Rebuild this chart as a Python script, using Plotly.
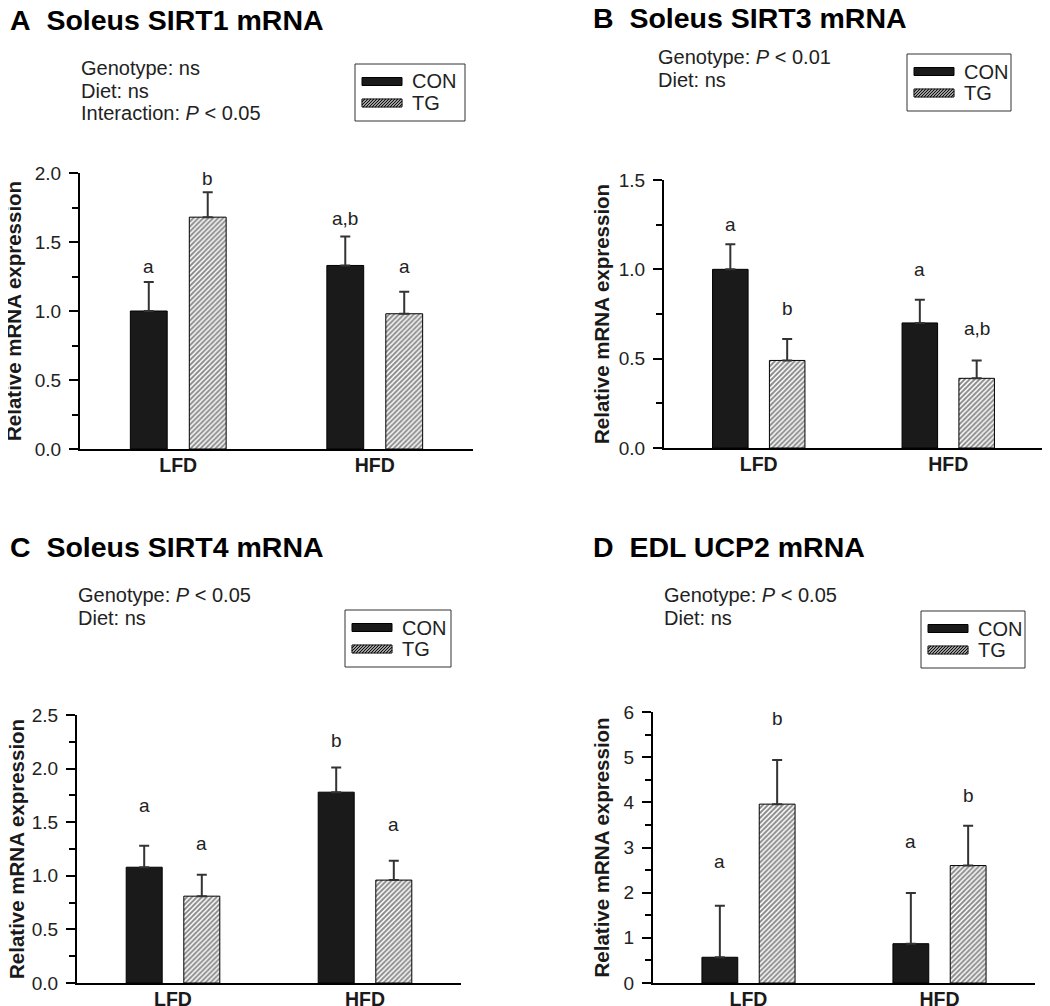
import plotly.graph_objects as go

W, H = 1050, 1006
OFF = 8  # the page puts the figure 8px in from the corner; reference pixel positions are shifted by this
FONT = 'Liberation Sans, Arial, sans-serif'
INK = '#1a1a1a'

groups = ['LFD', 'HFD']

# A - soleus SIRT1
sirt1_con = [1.00, 1.33]
sirt1_con_sem = [0.21, 0.21]
sirt1_tg = [1.68, 0.98]
sirt1_tg_sem = [0.18, 0.16]
sirt1_con_letters = ['a', 'a,b']
sirt1_tg_letters = ['b', 'a']
sirt1_con_letter_y = [1.32, 1.76]
sirt1_tg_letter_y = [2.05, 1.32]
sirt1_stats = ['Genotype: ns', 'Diet: ns', 'Interaction: <i>P</i> &lt; 0.05']

# B - soleus SIRT3
sirt3_con = [1.00, 0.70]
sirt3_con_sem = [0.14, 0.13]
sirt3_tg = [0.49, 0.39]
sirt3_tg_sem = [0.12, 0.10]
sirt3_con_letters = ['a', 'a']
sirt3_tg_letters = ['b', 'a,b']
sirt3_con_letter_y = [1.32, 1.00]
sirt3_tg_letter_y = [0.78, 0.67]
sirt3_stats = ['Genotype: <i>P</i> &lt; 0.01', 'Diet: ns']

# C - soleus SIRT4
sirt4_con = [1.08, 1.78]
sirt4_con_sem = [0.20, 0.23]
sirt4_tg = [0.81, 0.96]
sirt4_tg_sem = [0.20, 0.18]
sirt4_con_letters = ['a', 'b']
sirt4_tg_letters = ['a', 'a']
sirt4_con_letter_y = [1.66, 2.38]
sirt4_tg_letter_y = [1.30, 1.48]
sirt4_stats = ['Genotype: <i>P</i> &lt; 0.05', 'Diet: ns']

# D - EDL UCP2
ucp2_con = [0.57, 0.87]
ucp2_con_sem = [1.14, 1.12]
ucp2_tg = [3.96, 2.60]
ucp2_tg_sem = [0.98, 0.88]
ucp2_con_letters = ['a', 'a']
ucp2_tg_letters = ['b', 'b']
ucp2_con_letter_y = [2.69, 3.14]
ucp2_tg_letter_y = [6.13, 4.43]
ucp2_stats = ['Genotype: <i>P</i> &lt; 0.05', 'Diet: ns']


def px(x):
    return max(x - OFF, 0) / W


def py(y):
    return 1 - max(y - OFF, 0) / H


# panel geometry (pixels)
panels = [
    dict(title='A\u00a0\u00a0Soleus SIRT1 mRNA', con=sirt1_con, con_sem=sirt1_con_sem, tg=sirt1_tg, tg_sem=sirt1_tg_sem,
         con_lab=sirt1_con_letters, tg_lab=sirt1_tg_letters, con_ly=sirt1_con_letter_y, tg_ly=sirt1_tg_letter_y,
         stats=sirt1_stats, x0=80, x1=473, top=173, bottom=449, ymax=2.0, dtick=0.5, minor=0.25, fmt='.1f',
         title_xy=(5, 20), stats_xy=(79, 68), legend=(355, 64, 110), ytitle_x=13),
    dict(title='B\u00a0\u00a0Soleus SIRT3 mRNA', con=sirt3_con, con_sem=sirt3_con_sem, tg=sirt3_tg, tg_sem=sirt3_tg_sem,
         con_lab=sirt3_con_letters, tg_lab=sirt3_tg_letters, con_ly=sirt3_con_letter_y, tg_ly=sirt3_tg_letter_y,
         stats=sirt3_stats, x0=664, x1=1043, top=180, bottom=448, ymax=1.5, dtick=0.5, minor=0.25, fmt='.1f',
         title_xy=(591, 18), stats_xy=(656, 57), legend=(907, 54, 104), ytitle_x=601),
    dict(title='C\u00a0\u00a0Soleus SIRT4 mRNA', con=sirt4_con, con_sem=sirt4_con_sem, tg=sirt4_tg, tg_sem=sirt4_tg_sem,
         con_lab=sirt4_con_letters, tg_lab=sirt4_tg_letters, con_ly=sirt4_con_letter_y, tg_ly=sirt4_tg_letter_y,
         stats=sirt4_stats, x0=77, x1=461, top=715, bottom=983, ymax=2.5, dtick=0.5, minor=0.25, fmt='.1f',
         title_xy=(3, 547), stats_xy=(76, 595), legend=(345, 610, 106), ytitle_x=16),
    dict(title='D\u00a0\u00a0EDL UCP2 mRNA', con=ucp2_con, con_sem=ucp2_con_sem, tg=ucp2_tg, tg_sem=ucp2_tg_sem,
         con_lab=ucp2_con_letters, tg_lab=ucp2_tg_letters, con_ly=ucp2_con_letter_y, tg_ly=ucp2_tg_letter_y,
         stats=ucp2_stats, x0=653, x1=1035, top=712, bottom=983, ymax=6, dtick=1, minor=0.5, fmt='d',
         title_xy=(591, 547), stats_xy=(662, 595), legend=(921, 611, 104), ytitle_x=601),
]

data = []
annotations = []
shapes = []
layout = dict(width=W, height=H, margin=dict(l=0, r=0, t=0, b=0), autosize=False,
              plot_bgcolor='white', paper_bgcolor='white', showlegend=False,
              barmode='group', bargap=0.4, bargroupgap=0.375,
              font=dict(family=FONT, color=INK))

for i, p in enumerate(panels):
    sfx = '' if i == 0 else str(i + 1)
    xa, ya = 'x' + sfx, 'y' + sfx
    err = dict(type='data', symmetric=False, color='#333', thickness=2, width=5)

    data.append(go.Bar(x=groups, y=p['con'], name='CON', xaxis=xa, yaxis=ya,
                       error_y=dict(err, array=p['con_sem'], arrayminus=[0, 0]),
                       marker=dict(color=INK, line=dict(color='black', width=1))))
    data.append(go.Bar(x=groups, y=p['tg'], name='TG', xaxis=xa, yaxis=ya,
                       error_y=dict(err, array=p['tg_sem'], arrayminus=[0, 0]),
                       marker=dict(color='white', line=dict(color='black', width=1),
                                   pattern=dict(shape='/', fgcolor='#111', bgcolor='white',
                                                size=3.5, solidity=0.55))))

    layout['xaxis' + sfx] = dict(domain=[px(p['x0']), px(p['x1'])], anchor=ya, type='category',
                                 range=[-0.5, 1.5], showline=True, linecolor='black', linewidth=2,
                                 ticks='', showgrid=False, zeroline=False, automargin=False,
                                 ticklabelstandoff=-2,
                                 tickfont=dict(size=19.5, weight='bold', color=INK))
    layout['yaxis' + sfx] = dict(domain=[py(p['bottom']), py(p['top'])], anchor=xa,
                                 range=[0, p['ymax']], tick0=0, dtick=p['dtick'], tickformat=p['fmt'],
                                 ticks='outside', ticklen=9, tickwidth=2, tickcolor='black',
                                 showline=True, linecolor='black', linewidth=2,
                                 showgrid=False, zeroline=False, automargin=False, ticklabelstandoff=4,
                                 tickfont=dict(size=19, color='#222'),
                                 minor=dict(dtick=p['minor'], ticks='outside', ticklen=6, tickwidth=2,
                                            tickcolor='black', showgrid=False))

    # y-axis title as a rotated annotation so it sits where the reference has it
    annotations.append(dict(x=px(p['ytitle_x']), y=py((p['top'] + p['bottom']) / 2), xref='paper', yref='paper',
                            xanchor='center', yanchor='middle', textangle=-90, showarrow=False,
                            text='<b>Relative mRNA expression</b>', font=dict(size=20.5, color=INK)))

    # significance letters; y in axis-domain units so letters above the range top still show
    for j in range(len(groups)):
        annotations.append(dict(x=j - 0.15, y=p['con_ly'][j] / p['ymax'], xref=xa, yref=ya + ' domain',
                                text=p['con_lab'][j], showarrow=False, font=dict(size=19, color='#222')))
        annotations.append(dict(x=j + 0.15, y=p['tg_ly'][j] / p['ymax'], xref=xa, yref=ya + ' domain',
                                text=p['tg_lab'][j], showarrow=False, font=dict(size=19, color='#222')))

    # panel title and stats
    tx, ty = p['title_xy']
    annotations.append(dict(x=px(tx), y=py(ty), xref='paper', yref='paper', xanchor='left', yanchor='middle',
                            text='<b>' + p['title'] + '</b>', showarrow=False,
                            font=dict(size=28.5, color='black')))
    sx, sy = p['stats_xy']
    for k, line in enumerate(p['stats']):
        annotations.append(dict(x=px(sx), y=py(sy + 22.5 * k), xref='paper', yref='paper',
                                xanchor='left', yanchor='middle', text=line, showarrow=False,
                                font=dict(size=20, color='#222')))

    # legend box drawn by hand (wide swatches)
    lx, ly, lw = p['legend']
    shapes.append(dict(type='rect', xref='paper', yref='paper', x0=px(lx), x1=px(lx + lw),
                       y0=py(ly + 57), y1=py(ly), line=dict(color='#333', width=1), fillcolor='white'))
    s0, s1 = lx + 7, lx + 47
    for k, (lab, cy) in enumerate([('CON', ly + 17.5), ('TG', ly + 39)]):
        shapes.append(dict(type='rect', xref='paper', yref='paper', x0=px(s0), x1=px(s1),
                           y0=py(cy + 4), y1=py(cy - 4), line=dict(color='black', width=1),
                           fillcolor=INK if lab == 'CON' else 'white'))
        annotations.append(dict(x=px(lx + 55), y=py(cy), xref='paper', yref='paper', xanchor='left',
                                yanchor='middle', text=lab, showarrow=False, font=dict(size=20, color='#222')))
        if lab == 'TG':
            top, bot, h = cy - 4, cy + 4, 8
            path = ''
            u = s0 - h
            while u < s1:
                xa0 = max(u, s0)
                ya0 = bot - (xa0 - u)
                xb = min(u + h, s1)
                yb = top + (u + h - xb)
                path += 'M%.5f,%.5f L%.5f,%.5f ' % (px(xa0), py(ya0), px(xb), py(yb))
                u += 3
            shapes.append(dict(type='path', xref='paper', yref='paper', path=path,
                               line=dict(color='#111', width=1.2)))

layout['annotations'] = annotations
layout['shapes'] = shapes

fig = go.Figure(data=data, layout=layout)
fig.write_html('out.html')
